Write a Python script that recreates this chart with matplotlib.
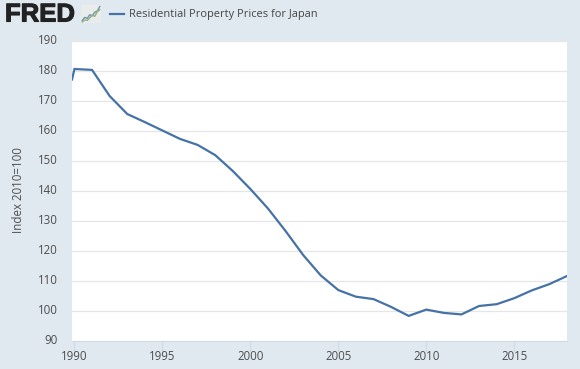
import matplotlib
matplotlib.use("Agg")
import matplotlib.pyplot as plt
import matplotlib.patheffects as pe
from matplotlib.transforms import ScaledTranslation

plt.rcParams['font.family'] = ['Open Sans', 'DejaVu Sans']

W, H = 580, 369
BG = '#e1e9f0'
LINE = '#4572a7'
TEXT = '#4d4d4d'

# first entry is the short stub left of the 1990 tick
years = [1989.86, 1990, 1991, 1992, 1993, 1994, 1995, 1996, 1997, 1998, 1999,
         2000, 2001, 2002, 2003, 2004, 2005, 2006, 2007, 2008, 2009,
         2010, 2011, 2012, 2013, 2014, 2015, 2016, 2017, 2018]
prices = [177.0, 180.5, 180.2, 171.5, 165.5, 162.8, 160.0, 157.2, 155.2, 151.8, 146.5,
          140.5, 134.0, 126.5, 118.5, 111.7, 106.8, 104.6, 103.8, 101.2, 98.2,
          100.3, 99.2, 98.7, 101.5, 102.1, 104.1, 106.7, 108.8, 111.5]
x_ticks = [1990, 1995, 2000, 2005, 2010, 2015]
y_ticks = [90, 100, 110, 120, 130, 140, 150, 160, 170, 180, 190]

# logo sparkline values
icon_x = [0, 1, 2, 3, 4, 5, 6, 7]
icon_blue = [1.0, 2.2, 1.8, 3.2, 2.8, 4.2, 4.6, 6.4]
icon_green = [0.4, 1.2, 1.0, 2.0, 3.0, 2.6, 4.4, 5.2]

fig = plt.figure(figsize=(W / 100, H / 100), dpi=100, facecolor=BG)


def axes_px(x0, y0, x1, y1):
    # pixel box, y measured from the top of the image
    return fig.add_axes([x0 / W, 1 - y1 / H, (x1 - x0) / W, (y1 - y0) / H])


ax = axes_px(72, 40.5, 567, 340.5)
ax.set_facecolor('white')
ax.plot(years, prices, color=LINE, lw=1.6, solid_joinstyle='miter', zorder=3)
ax.set_xlim(1989.86, 2018)
ax.set_ylim(90, 190)
ax.set_xticks(x_ticks)
ax.set_yticks(y_ticks)
ax.grid(axis='y', color='#e6e6e6', lw=0.9)
ax.set_axisbelow(True)
for s in ax.spines.values():
    s.set_visible(False)
ax.spines['bottom'].set_visible(True)
ax.spines['bottom'].set_color('#cfdbe6')
ax.tick_params(axis='x', length=8, width=1, color='#cfdbe6', labelsize=8.3, labelcolor=TEXT, pad=-1)
ax.tick_params(axis='y', length=0, labelsize=8.3, labelcolor=TEXT, pad=10)
# y labels sit a little above their gridlines
for lab in ax.get_yticklabels():
    lab.set_transform(lab.get_transform() + ScaledTranslation(0, 2 / 100, fig.dpi_scale_trans))
ax.set_ylabel('Index 2010=100', fontsize=8.3, color=TEXT, labelpad=9.5)

# header: logo and legend
logo = fig.text(5 / W, 1 - 21.5 / H, 'FRED', fontsize=18.5, fontweight='bold', color='#222222',
                va='baseline', ha='left', family=['Liberation Sans', 'DejaVu Sans'])
logo.set_path_effects([pe.withStroke(linewidth=0.8, foreground='#222222')])

icon = axes_px(81, 5, 101, 23)
icon.set_facecolor('#e9ecea')
icon.plot(icon_x, icon_blue, color='#6f93b5', lw=1)
icon.plot(icon_x, icon_green, color='#93b07a', lw=1)
icon.set_xlim(-0.5, 7.5)
icon.set_ylim(0, 7)
icon.set_xticks([])
icon.set_yticks([])
for s in icon.spines.values():
    s.set_visible(False)

fig.add_artist(plt.Line2D([110 / W, 124 / W], [1 - 13.5 / H, 1 - 13.5 / H], color=LINE, lw=1.6))
fig.text(129 / W, 1 - 14 / H, 'Residential Property Prices for Japan', fontsize=7.9,
         color='#444444', va='center', ha='left')

fig.savefig('out.png', dpi=100, facecolor=BG)
